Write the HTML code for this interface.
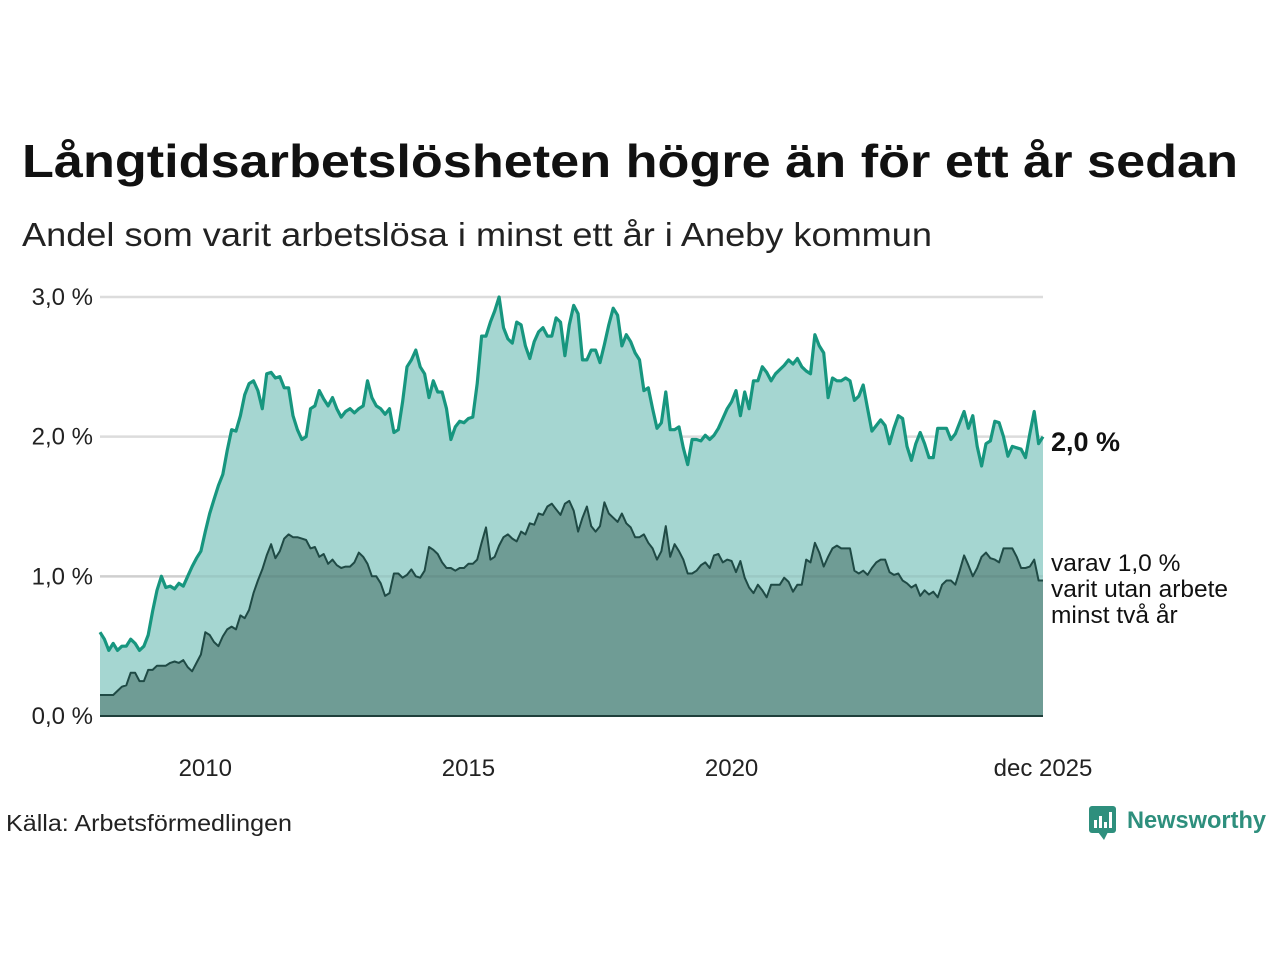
<!DOCTYPE html>
<html><head><meta charset="utf-8"><style>
body{margin:0;background:#fff;width:1280px;height:960px;overflow:hidden;font-family:"Liberation Sans",sans-serif}
svg text{font-family:"Liberation Sans",sans-serif}
</style></head><body>
<svg id="chart" width="1280" height="960" viewBox="0 0 1280 960">
<text x="22" y="177" font-size="46" font-weight="bold" fill="#111" textLength="1216" lengthAdjust="spacingAndGlyphs">Långtidsarbetslösheten högre än för ett år sedan</text>
<text x="22" y="246" font-size="33" fill="#222" textLength="910" lengthAdjust="spacingAndGlyphs">Andel som varit arbetslösa i minst ett år i Aneby kommun</text>
<g id="grid"></g><g id="areas"></g><g id="labels"></g>
<text x="6" y="831" font-size="23" fill="#222" textLength="286" lengthAdjust="spacingAndGlyphs">Källa: Arbetsförmedlingen</text>
<g>
<rect x="1089" y="806" width="27" height="27" rx="3" fill="#2e8f7d"/>
<polygon points="1098,832 1104,840 1108,832" fill="#2e8f7d"/>
<rect x="1094" y="820" width="3" height="8" fill="#fff"/><rect x="1099" y="816" width="3" height="12" fill="#fff"/><rect x="1104" y="822" width="3" height="6" fill="#fff"/><rect x="1109" y="812" width="3" height="16" fill="#fff"/>
<text x="1127" y="828" font-size="24" font-weight="bold" fill="#2e8f7d" textLength="139" lengthAdjust="spacingAndGlyphs">Newsworthy</text>
</g>
</svg>
<script>
const years=[2008,2009,2010,2011,2012,2013,2014,2015,2016,2017,2018,2019,2020,2021,2022,2023,2024,2025];
const totalValues=[
0.60,0.55,0.47,0.52,0.47,0.50,0.50,0.55,0.52,0.47,0.50,0.58,
0.75,0.90,1.00,0.92,0.93,0.91,0.95,0.93,1.00,1.07,1.13,1.18,
1.32,1.45,1.55,1.65,1.73,1.90,2.05,2.04,2.15,2.30,2.38,2.40,
2.33,2.20,2.45,2.46,2.42,2.43,2.35,2.35,2.15,2.05,1.98,2.00,
2.20,2.22,2.33,2.27,2.22,2.28,2.20,2.14,2.18,2.20,2.17,2.20,
2.22,2.40,2.28,2.22,2.20,2.16,2.20,2.03,2.05,2.25,2.50,2.55,
2.62,2.50,2.45,2.28,2.40,2.32,2.32,2.20,1.98,2.07,2.11,2.10,
2.13,2.14,2.38,2.72,2.72,2.82,2.90,3.00,2.78,2.70,2.67,2.82,
2.80,2.65,2.56,2.68,2.75,2.78,2.72,2.72,2.85,2.82,2.58,2.80,
2.94,2.88,2.55,2.55,2.62,2.62,2.53,2.66,2.80,2.92,2.87,2.65,
2.73,2.68,2.60,2.55,2.33,2.35,2.20,2.06,2.10,2.32,2.05,2.05,
2.07,1.92,1.80,1.98,1.98,1.97,2.01,1.98,2.01,2.06,2.13,2.20,
2.25,2.33,2.15,2.32,2.20,2.40,2.40,2.50,2.46,2.40,2.45,2.48,
2.51,2.55,2.52,2.56,2.50,2.47,2.45,2.73,2.65,2.60,2.28,2.42,
2.40,2.40,2.42,2.40,2.26,2.29,2.37,2.20,2.04,2.08,2.12,2.08,
1.95,2.06,2.15,2.13,1.93,1.83,1.95,2.03,1.95,1.85,1.85,2.06,
2.06,2.06,1.98,2.02,2.10,2.18,2.06,2.15,1.93,1.79,1.95,1.97,
2.11,2.10,2.00,1.86,1.93,1.92,1.91,1.85,2.02,2.18,1.95,2.00];
const twoYearValues=[
0.15,0.15,0.15,0.15,0.18,0.21,0.22,0.31,0.31,0.25,0.25,0.33,
0.33,0.36,0.36,0.36,0.38,0.39,0.38,0.40,0.35,0.32,0.38,0.44,
0.60,0.58,0.53,0.50,0.57,0.62,0.64,0.62,0.72,0.70,0.76,0.88,
0.97,1.05,1.15,1.23,1.13,1.18,1.27,1.30,1.28,1.28,1.27,1.26,
1.20,1.21,1.14,1.16,1.09,1.12,1.08,1.06,1.07,1.07,1.10,1.17,
1.14,1.09,1.00,1.00,0.95,0.86,0.88,1.02,1.02,0.99,1.01,1.05,
1.00,0.99,1.04,1.21,1.19,1.16,1.10,1.06,1.06,1.04,1.06,1.06,
1.09,1.09,1.12,1.24,1.35,1.12,1.14,1.22,1.28,1.30,1.27,1.25,
1.32,1.30,1.38,1.37,1.45,1.44,1.50,1.52,1.48,1.44,1.52,1.54,
1.47,1.32,1.42,1.50,1.36,1.32,1.36,1.53,1.45,1.42,1.39,1.45,
1.38,1.35,1.28,1.28,1.30,1.24,1.20,1.12,1.18,1.36,1.14,1.23,
1.18,1.12,1.02,1.02,1.04,1.08,1.10,1.06,1.15,1.16,1.10,1.12,
1.11,1.03,1.11,0.99,0.92,0.88,0.94,0.90,0.85,0.94,0.94,0.94,
0.99,0.96,0.89,0.94,0.94,1.12,1.10,1.24,1.17,1.07,1.14,1.20,
1.22,1.20,1.20,1.20,1.04,1.02,1.04,1.01,1.06,1.10,1.12,1.12,
1.03,1.01,1.02,0.97,0.95,0.92,0.94,0.86,0.90,0.87,0.89,0.85,
0.94,0.97,0.97,0.94,1.04,1.15,1.08,1.00,1.06,1.14,1.17,1.13,
1.12,1.10,1.20,1.20,1.20,1.14,1.06,1.06,1.07,1.12,0.97,0.97];
const yTicks=[0,1,2,3];
const yTickLabels=["0,0 %","1,0 %","2,0 %","3,0 %"];
const xTicks=[2010,2015,2020,2025.917];
const xTickLabels=["2010","2015","2020","dec 2025"];
const NS="http://www.w3.org/2000/svg";
const x0=100,x1=1043,yb=716,yt=297;
const n=totalValues.length;
const xOfIdx=i=>x0+(x1-x0)*i/(n-1);
const xOfYear=t=>x0+(x1-x0)*(t-years[0])*12/(n-1);
const yOf=v=>yb-(yb-yt)*v/3;
function mk(tag,attrs,parent){const e=document.createElementNS(NS,tag);for(const k in attrs)e.setAttribute(k,attrs[k]);parent.appendChild(e);return e;}
const grid=document.getElementById('grid'),areas=document.getElementById('areas'),labels=document.getElementById('labels');
yTicks.forEach((v,i)=>{
 const l=mk('line',{x1:x0,x2:x1,y1:yOf(v),y2:yOf(v),stroke:v===0?'#1f3f3b':'#dcdcdc','stroke-width':v===0?2:2.5},grid);
 
 
 const t=mk('text',{x:93,y:yOf(v)+8,'font-size':24,fill:'#222','text-anchor':'end'},labels);
 t.textContent=yTickLabels[i];
 
 
});
xTicks.forEach((v,i)=>{
 const t=mk('text',{x:xOfYear(v),y:776,'font-size':24,fill:'#222','text-anchor':'middle'},labels);
 t.textContent=xTickLabels[i];
 
 
});
function pts(arr){return arr.map((v,i)=>xOfIdx(i).toFixed(1)+','+yOf(v).toFixed(1)).join(' ');}
function areaPath(arr){return 'M'+x0+','+yb+' L'+pts(arr).split(' ').join(' L')+' L'+x1+','+yb+' Z';}
const a1=mk('path',{d:areaPath(totalValues),fill:'#a5d6d1'},areas);


const a2=mk('path',{d:areaPath(twoYearValues),fill:'#6f9c95'},areas);


const g2=mk('line',{x1:x0,x2:x1,y1:yOf(1),y2:yOf(1),stroke:'#000','stroke-opacity':0.06,'stroke-width':2.5},areas);


const l1=mk('polyline',{points:pts(totalValues),fill:'none',stroke:'#17967f','stroke-width':3.2,'stroke-linejoin':'round'},areas);


const l2=mk('polyline',{points:pts(twoYearValues),fill:'none',stroke:'#1f4a45','stroke-width':2,'stroke-linejoin':'round'},areas);


const base=mk('line',{x1:x0,x2:x1,y1:yb,y2:yb,stroke:'#1f3f3b','stroke-width':2},areas);


const e1=mk('text',{x:1051,y:451,'font-size':27,'font-weight':'bold',fill:'#111'},labels);
e1.textContent=totalValues[n-1].toFixed(1).replace('.',',')+' %';


["varav "+twoYearValues[n-1].toFixed(1).replace('.',',')+" %","varit utan arbete","minst två år"].forEach((s,i)=>{
 const t=mk('text',{x:1051,y:571+i*26,'font-size':24.5,fill:'#111'},labels);
 t.textContent=s;
 
 
});
</script>
</body></html>
